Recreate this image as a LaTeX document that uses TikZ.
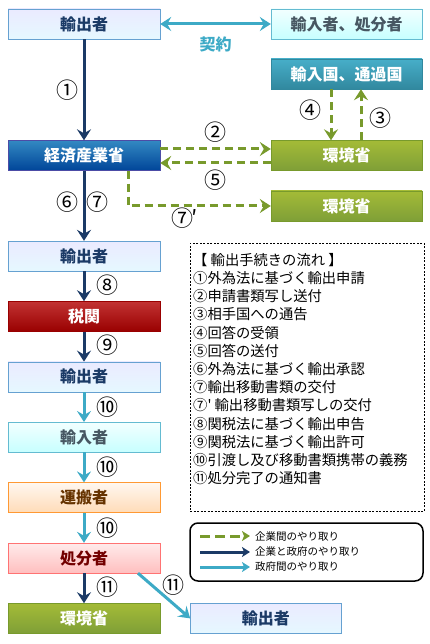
\documentclass[tikz,border=0pt]{standalone}
\usepackage{fontspec}
\newfontfamily\jp{Noto Sans CJK JP}
\usetikzlibrary{arrows.meta,positioning}
\definecolor{navyline}{HTML}{1B3A66}
\definecolor{cyanline}{HTML}{3DAAC6}
\definecolor{greenline}{HTML}{789A2C}

\begin{document}
\begin{tikzpicture}[
 x=1pt, y=-1pt, node distance=30pt and 30pt, font=\jp,
 >={Stealth[length=11pt,width=14pt,inset=4pt]},
 box/.style={draw, minimum width=152pt, minimum height=30pt, inner sep=0pt, font=\jp\bfseries\fontsize{16}{16}\selectfont},
 trader/.style={box, draw=blue!45!cyan!70!black!60, top color=blue!8, bottom color=blue!28!cyan!10, text=navyline},
 importer/.style={box, draw=cyanline!80, top color=cyan!5, bottom color=cyan!22, text=cyan!30!black},
 transit/.style={box, draw=cyanline!80!black, top color=cyanline!95, bottom color=cyanline!80!black, text=white},
 meti/.style={box, draw=blue!50!black!70, top color=blue!40!cyan!70!black!80, bottom color=blue!55!cyan!60!black, text=white},
 env/.style={box, draw=greenline, top color=greenline!75!yellow!90, bottom color=greenline!95, text=white},
 customs/.style={box, draw=red!60!black, top color=red!70!black!80, bottom color=red!60!black, text=white},
 carrier/.style={box, draw=orange!80, top color=orange!6, bottom color=orange!28, text=orange!40!black},
 disposer/.style={box, draw=red!55, top color=red!8, bottom color=red!25, text=red!45!black},
 num/.style={inner sep=0pt, font=\jp\fontsize{22}{22}\selectfont},
 legtext/.style={anchor=west, inner sep=0pt, font=\jp\fontsize{10.5}{10.5}\selectfont},
 navyflow/.style={draw=navyline, line width=3pt, ->},
 cyanflow/.style={draw=cyanline, line width=3pt, ->},
 dashflow/.style={draw=greenline, line width=3pt, dash pattern=on 8pt off 5pt, ->}]
\useasboundingbox (0,0) rectangle (430,644);
% left column
\node[trader] (exp1) at (84,24) {輸出者};
\node[meti] (meti) at (84,155.5) {経済産業省};
\node[trader] (exp2) at (84,256) {輸出者};
\node[customs, below=of exp2] (cust) {税関};
\node[trader, below=of cust] (exp3) {輸出者};
\node[importer, below=of exp3] (imp2) {輸入者};
\node[carrier, below=of imp2] (carr) {運搬者};
\node[disposer, below=of carr] (disp) {処分者};
\node[env, below=of disp] (env3) {環境省};
\node[trader, right=of env3, minimum width=151pt] (exp4) {輸出者};
% right column
\node[importer, minimum width=151pt] (imp) at (346.5,24) {輸入者、処分者};
\node[transit, minimum width=151pt] (trans) at (346.5,74) {輸入国、通過国};
\node[env, minimum width=151pt] (env1) at (346.5,155.5) {環境省};
\node[env, minimum width=151pt] (env2) at (346.5,206) {環境省};

% connectors
\draw[cyanflow, <->] (exp1) -- (imp) node[midway, below=8pt, text=cyanline, font=\jp\bfseries\fontsize{16}{16}\selectfont] (contract) {契約};
\draw[navyflow] (exp1) -- (meti);
\draw[navyflow] (meti) -- (exp2);
\draw[navyflow] (exp2) -- (cust);
\draw[navyflow] (cust) -- (exp3);
\draw[cyanflow] (exp3) -- (imp2);
\draw[cyanflow] (imp2) -- (carr);
\draw[cyanflow] (carr) -- (disp);
\draw[navyflow] (disp) -- (env3);
\draw[cyanflow] ([xshift=54pt]disp.south) -- (exp4.west);
\draw[dashflow] ([yshift=6.5pt]meti.east) -- ([yshift=6.5pt]env1.west);
\draw[dashflow] ([yshift=-7.5pt]env1.west) -- ([yshift=-7.5pt]meti.east);
\draw[dashflow] ([xshift=-15.5pt]trans.south) -- ([xshift=-15.5pt]env1.north);
\draw[dashflow] ([xshift=14.5pt]env1.north) -- ([xshift=14.5pt]trans.south);
\draw[dashflow] ([xshift=44pt]meti.south) |- (env2.west);

% step numbers
\node[num] (n1) at (67,90) {①};
\node[num] (n2) at (215,132) {②};
\node[num] (n3) at (380,118) {③};
\node[num] (n4) at (310,110) {④};
\node[num] (n5) at (215,180) {⑤};
\node[num] (n6) at (67,202) {⑥};
\node[num] (n7) at (97,202) {⑦};
\node[num] (n7b) at (185,218) {⑦\kern-2pt′};
\node[num] (n8) at (107,285) {⑧};
\node[num] (n9) at (107,345) {⑨};
\node[num] (n10a) at (107,407) {⑩};
\node[num] (n10b) at (107,467) {⑩};
\node[num] (n10c) at (107,528) {⑩};
\node[num] (n11a) at (107,587) {⑪};
\node[num] (n11b) at (173,585) {⑪};

% flow of steps
\node[draw, dash pattern=on 2pt off 1.5pt, line width=0.9pt, minimum width=234pt, minimum height=268pt] (flowbox) at (307,377) {};
\node[anchor=north west, align=left, inner sep=0pt, font=\jp\fontsize{14.3}{18.2}\selectfont] (steps) at (193,253)
 {【 輸出手続きの流れ 】\\①外為法に基づく輸出申請\\②申請書類写し送付\\③相手国への通告\\④回答の受領\\⑤回答の送付\\⑥外為法に基づく輸出承認\\⑦輸出移動書類の交付\\⑦' 輸出移動書類写しの交付\\⑧関税法に基づく輸出申告\\⑨関税法に基づく輸出許可\\⑩引渡し及び移動書類携帯の義務\\⑪処分完了の通知書};

% legend
\node[draw, line width=1.5pt, rounded corners=8pt, minimum width=233pt, minimum height=58pt] (legend) at (306.5,552) {};
\node[legtext] (lt1) at (255,536) {企業間のやり取り};
\node[legtext] (lt2) at (255,552) {企業と政府のやり取り};
\node[legtext] (lt3) at (255,567) {政府間のやり取り};
\coordinate (lg1) at (200,536);
\coordinate (lg2) at (200,552);
\coordinate (lg3) at (200,567);
\draw[dashflow, dash pattern=on 10pt off 5pt, >={Stealth[length=8pt,width=10pt,inset=2pt]}, shorten >=5pt] (lg1) -- (lt1.west);
\draw[navyflow, >={Stealth[length=8pt,width=10pt,inset=2pt]}, shorten >=5pt] (lg2) -- (lt2.west);
\draw[cyanflow, >={Stealth[length=8pt,width=10pt,inset=2pt]}, shorten >=5pt] (lg3) -- (lt3.west);
\end{tikzpicture}
\end{document}
